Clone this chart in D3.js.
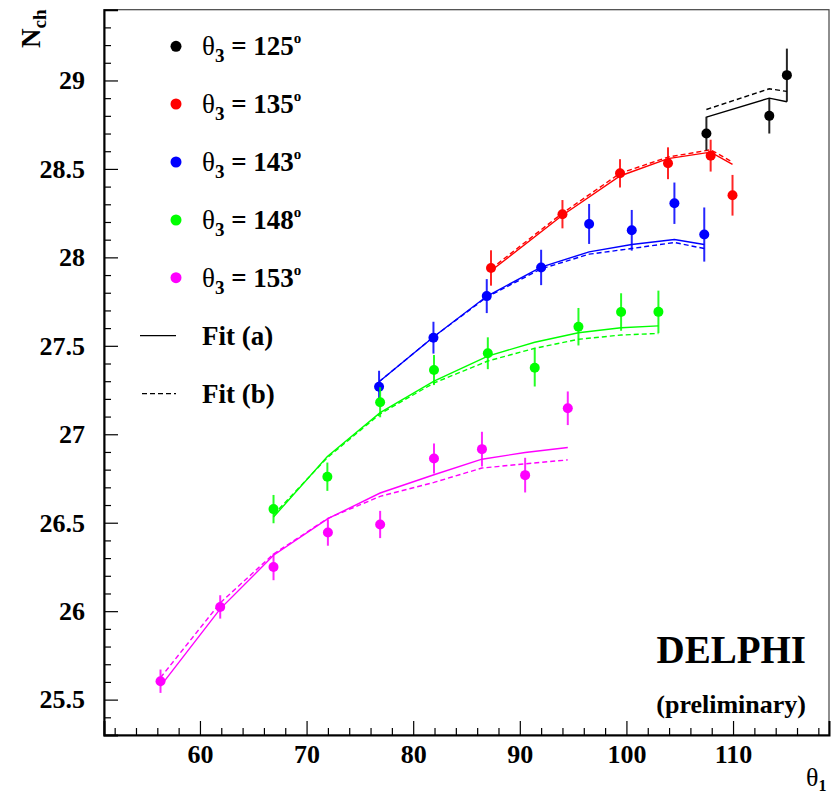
<!DOCTYPE html>
<html><head><meta charset="utf-8">
<script src="https://cdn.jsdelivr.net/npm/d3@7/dist/d3.min.js"></script>
<style>body{margin:0;background:#fff}svg{display:block}text{font-family:"Liberation Serif","Times New Roman",Times,serif;font-weight:bold}</style>
</head><body>
<svg id="c" width="836" height="797"></svg>
<script>
// ---- data ----
const seriesLabels = ["125", "135", "143", "148", "153"];
const seriesColors = ["#000000", "#ff0000", "#0000ff", "#00ff00", "#ff00ff"];

const x125 = [107.5, 113.4, 115.05];
const y125 = [28.70, 28.80, 29.03];
const e125 = [0.095, 0.10, 0.15];
const fitA125 = [28.793, 28.90, 28.88];
const fitB125 = [28.836, 28.953, 28.938];

const x135 = [87.3, 94.0, 99.4, 103.9, 107.9, 109.95];
const y135 = [27.94, 28.244, 28.475, 28.532, 28.575, 28.351];
const e135 = [0.10, 0.08, 0.08, 0.09, 0.09, 0.115];
const fitA135 = [27.924, 28.238, 28.46, 28.558, 28.595, 28.526];
const fitB135 = [27.935, 28.25, 28.475, 28.567, 28.608, 28.539];

const x143 = [76.8, 81.9, 86.9, 92.0, 96.5, 100.5, 104.5, 107.3];
const y143 = [27.269, 27.546, 27.781, 27.943, 28.189, 28.153, 28.306, 28.129];
const e143 = [0.09, 0.09, 0.096, 0.10, 0.113, 0.115, 0.117, 0.153];
const fitA143 = [27.297, 27.55, 27.78, 27.945, 28.031, 28.073, 28.101, 28.073];
const fitB143 = [27.297, 27.55, 27.775, 27.935, 28.018, 28.05, 28.084, 28.05];

const x148 = [66.9, 71.95, 76.9, 81.95, 87.0, 91.4, 95.5, 99.5, 103.0];
const y148 = [26.577, 26.760, 27.181, 27.363, 27.458, 27.376, 27.608, 27.691, 27.692];
const e148 = [0.08, 0.08, 0.085, 0.085, 0.09, 0.106, 0.106, 0.106, 0.12];
const fitA148 = [26.532, 26.874, 27.122, 27.30, 27.442, 27.52, 27.574, 27.602, 27.613];
const fitB148 = [26.545, 26.868, 27.115, 27.29, 27.414, 27.486, 27.537, 27.561, 27.57];

const x153 = [56.3, 61.9, 66.9, 72.0, 76.9, 81.95, 86.45, 90.5, 94.5];
const y153 = [25.604, 26.024, 26.250, 26.445, 26.490, 26.863, 26.916, 26.769, 27.147];
const e153 = [0.066, 0.066, 0.075, 0.075, 0.077, 0.085, 0.098, 0.098, 0.095];
const fitA153 = [25.576, 26.013, 26.316, 26.523, 26.668, 26.771, 26.859, 26.897, 26.925];
const fitB153 = [25.624, 26.047, 26.323, 26.525, 26.649, 26.728, 26.809, 26.833, 26.855];

const xMajorTicks = [60, 70, 80, 90, 100, 110];
const yMajorTicks = [25.5, 26, 26.5, 27, 27.5, 28, 28.5, 29];

const series = [
  {x: x125, y: y125, e: e125, a: fitA125, b: fitB125},
  {x: x135, y: y135, e: e135, a: fitA135, b: fitB135},
  {x: x143, y: y143, e: e143, a: fitA143, b: fitB143},
  {x: x148, y: y148, e: e148, a: fitA148, b: fitB148},
  {x: x153, y: y153, e: e153, a: fitA153, b: fitB153}
];

// ---- layout ----
const FONT = '"Liberation Serif","Times New Roman",Times,serif';
const L = 104, R = 829, T = 9.7, B = 735;
const svg = d3.select("#c");
const x = d3.scaleLinear().domain([51, 119]).range([L, R]);
const y = d3.scaleLinear().domain([25.3, 29.4]).range([B, T]);

svg.append("rect").attr("x", L).attr("y", T).attr("width", R - L).attr("height", B - T)
  .attr("fill", "none").attr("stroke", "#444").attr("stroke-width", 1.2);

const xMinor = d3.range(52, 119, 2).filter(v => v % 10 !== 0);
const yMinor = d3.range(254, 294, 1).map(v => v / 10).filter(v => Math.abs(v * 2 - Math.round(v * 2)) > 1e-6);

const gx = svg.append("g").attr("transform", `translate(0,${B})`);
gx.call(d3.axisBottom(x).tickValues(xMinor).tickSize(-7).tickFormat(""));
gx.call(g => g.selectAll(".domain").remove());
const gx2 = svg.append("g").attr("transform", `translate(0,${B})`);
gx2.call(d3.axisBottom(x).tickValues(xMajorTicks).tickSize(-14).tickPadding(10).tickFormat(d3.format("d")));
[gx, gx2].forEach(g => g.selectAll("line").attr("stroke-width", 1.2));

const gy = svg.append("g").attr("transform", `translate(${L},0)`);
gy.call(d3.axisLeft(y).tickValues(yMinor).tickSize(-7).tickFormat(""));
gy.call(g => g.selectAll(".domain").remove());
const gy2 = svg.append("g").attr("transform", `translate(${L},0)`);
gy2.call(d3.axisLeft(y).tickValues(yMajorTicks).tickSize(-14).tickPadding(19).tickFormat(d => String(d)));
[gy, gy2].forEach(g => g.selectAll("line").attr("stroke-width", 1.2));
svg.selectAll(".domain").attr("stroke-width", 2).attr("stroke", "#000");
svg.selectAll(".tick text").attr("font-size", 26).attr("font-family", FONT).attr("font-weight", "bold").attr("fill", "#000");

// ---- fits and points ----
const line = d3.line();
series.forEach((s, i) => {
  const col = seriesColors[i];
  const ptsA = s.x.map((xv, k) => [x(xv), y(s.a[k])]);
  const ptsB = s.x.map((xv, k) => [x(xv), y(s.b[k])]);
  svg.append("path").attr("d", line(ptsB)).attr("fill", "none").attr("stroke", col)
    .attr("stroke-width", 1.4).attr("stroke-dasharray", "5,3");
  svg.append("path").attr("d", line(ptsA)).attr("fill", "none").attr("stroke", col)
    .attr("stroke-width", 1.4);
});
series.forEach((s, i) => {
  const col = seriesColors[i];
  s.x.forEach((xv, k) => {
    svg.append("line").attr("x1", x(xv)).attr("x2", x(xv))
      .attr("y1", y(s.y[k] - s.e[k])).attr("y2", y(s.y[k] + s.e[k]))
      .attr("stroke", col).attr("stroke-width", 2).attr("opacity", 0.85);
    svg.append("circle").attr("cx", x(xv)).attr("cy", y(s.y[k])).attr("r", 5).attr("fill", col);
  });
});

// ---- legend ----
const legY = [46.3, 104, 162, 220, 277.7];
seriesLabels.forEach((lab, i) => {
  svg.append("circle").attr("cx", 176).attr("cy", legY[i]).attr("r", 5.5).attr("fill", seriesColors[i]);
  const t = svg.append("text").attr("x", 202).attr("y", legY[i] + 9).attr("font-size", 27).attr("fill", "#000");
  t.append("tspan").text("θ").attr("font-weight", "normal");
  t.append("tspan").text("3").attr("font-size", 19).attr("dy", 7);
  t.append("tspan").text(" = " + lab).attr("dy", -7);
  t.append("tspan").text("o").attr("font-size", 15).attr("dy", -12);
});
svg.append("line").attr("x1", 140).attr("x2", 176).attr("y1", 335.7).attr("y2", 335.7).attr("stroke", "#000").attr("stroke-width", 1.2);
svg.append("line").attr("x1", 142).attr("x2", 176).attr("y1", 393.7).attr("y2", 393.7).attr("stroke", "#000").attr("stroke-width", 1.2).attr("stroke-dasharray", "5,3");
svg.append("text").attr("x", 202).attr("y", 345).attr("font-size", 27).text("Fit (a)");
svg.append("text").attr("x", 202).attr("y", 403).attr("font-size", 27).text("Fit (b)");

// ---- labels ----
const yl = svg.append("text").attr("transform", "translate(40,48) rotate(-90)").attr("font-size", 27);
yl.append("tspan").text("N");
yl.append("tspan").text("ch").attr("font-size", 19).attr("dy", 6);

const xl = svg.append("text").attr("x", 806).attr("y", 786).attr("font-size", 26);
xl.append("tspan").text("θ").attr("font-weight", "normal");
xl.append("tspan").text("1").attr("font-size", 16).attr("dy", 5);

svg.append("text").attr("x", 806).attr("y", 663).attr("text-anchor", "end").attr("font-size", 39).text("DELPHI");
svg.append("text").attr("x", 806).attr("y", 713).attr("text-anchor", "end").attr("font-size", 26).text("(preliminary)");
</script>
</body></html>
